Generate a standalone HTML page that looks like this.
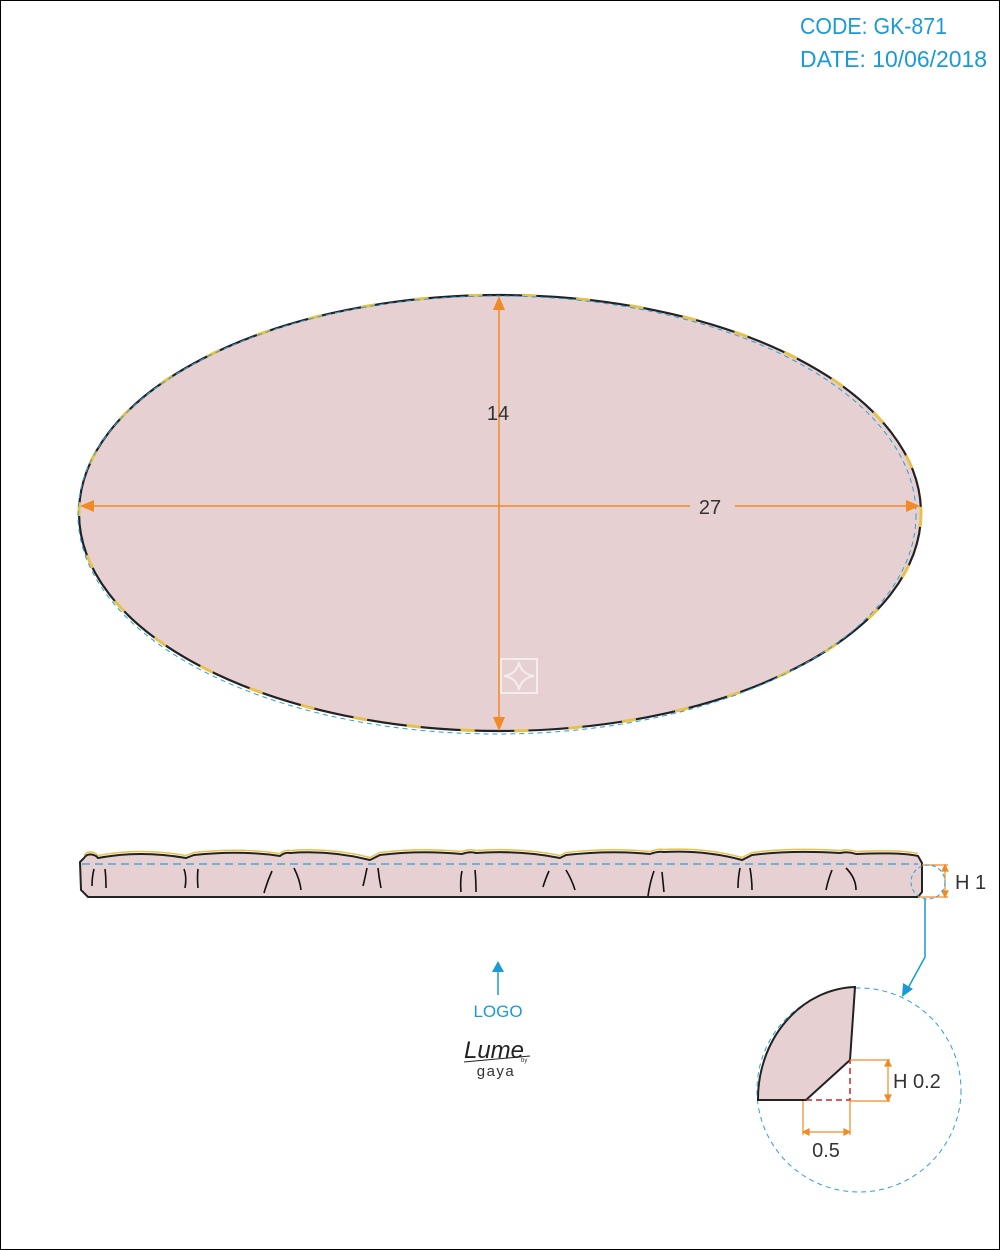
<!DOCTYPE html>
<html><head><meta charset="utf-8"><style>
html,body{margin:0;padding:0;background:#fff}
svg{display:block}
text{font-family:"Liberation Sans",sans-serif}
</style></head><body>
<svg width="1000" height="1250" viewBox="0 0 1000 1250">
<rect x="0.5" y="0.5" width="999" height="1249" fill="#fff" stroke="#000" stroke-width="1"/>
<text x="800" y="34" font-size="23" fill="#1a9ad6" textLength="147" lengthAdjust="spacingAndGlyphs">CODE: GK-871</text>
<text x="800" y="67" font-size="23" fill="#1a9ad6" textLength="187" lengthAdjust="spacingAndGlyphs">DATE: 10/06/2018</text>

<g>
<ellipse cx="500" cy="513" rx="421" ry="218" fill="#e7d0d1" stroke="#222" stroke-width="2.2"/>
<ellipse cx="500" cy="513" rx="421" ry="218" fill="none" stroke="#e8c14a" stroke-width="3" stroke-dasharray="14 40"/>
<ellipse cx="497" cy="515" rx="419" ry="219" fill="none" stroke="#2aa0d8" stroke-width="1" stroke-dasharray="5 4"/>
<line x1="499" y1="306" x2="499" y2="720" stroke="#f08a24" stroke-width="1.5"/>
<polygon points="499,296 493,310 505,310" fill="#f08a24"/>
<polygon points="499,731 493,717 505,717" fill="#f08a24"/>
<text x="498" y="420" font-size="20" fill="#333" text-anchor="middle">14</text>
<line x1="90" y1="506" x2="690" y2="506" stroke="#f08a24" stroke-width="1.5"/>
<line x1="735" y1="506" x2="910" y2="506" stroke="#f08a24" stroke-width="1.5"/>
<polygon points="80,506 94,500 94,512" fill="#f08a24"/>
<polygon points="920,506 906,500 906,512" fill="#f08a24"/>
<text x="710" y="514" font-size="20" fill="#333" text-anchor="middle">27</text>
<g stroke="#f5eded" stroke-width="2" fill="none">
<rect x="501" y="659" width="36" height="34"/>
<path d="M519,662 Q521,674 534,676 Q521,678 519,690 Q517,678 504,676 Q517,674 519,662 Z"/>
</g>
</g>

<g>
<path d="M84,858 Q88,852 96,856 L98,858 Q140,850 186,858 L194,855 Q240,850 280,856 Q285,852 290,853 Q330,850 370,860 L380,855 Q420,850 462,854 Q470,851 476,853 Q520,850 560,858 L566,855 Q610,850 650,854 Q658,851 664,852 Q705,850 742,860 L752,855 Q790,850 840,853 Q848,851 856,854 Q900,852 918,856 L922,863 L922,892 L918,897 L88,897 L81,890 L80,862 Z" fill="#e7d0d1" stroke="#222" stroke-width="2"/>
<path d="M84,857 Q88,851 96,855 L98,857 Q140,849 186,857 L194,854 Q240,849 280,855 Q285,851 290,852 Q330,849 370,859 L380,854 Q420,849 462,853 Q470,850 476,852 Q520,849 560,857 L566,854 Q610,849 650,853 Q658,850 664,851 Q705,849 742,859 L752,854 Q790,849 840,852 Q848,850 856,853 Q900,851 918,855" fill="none" stroke="#e8c14a" stroke-width="1.5" transform="translate(0,-1.5)"/>
<line x1="82" y1="864" x2="918" y2="864" stroke="#2aa0d8" stroke-width="1.2" stroke-dasharray="8 5"/>
<g stroke="#111" stroke-width="1.6" fill="none">
<path d="M94,869 Q92,877 92,886"/><path d="M105,869 Q106,877 106,888"/>
<path d="M184,869 Q187,877 185,888"/><path d="M198,869 Q197,878 198,888"/>
<path d="M272,871 Q267,882 264,893"/><path d="M294,868 Q300,880 301,890"/>
<path d="M367,868 Q365,878 363,886"/><path d="M378,868 Q379,878 381,888"/>
<path d="M462,871 Q460,880 461,892"/><path d="M475,870 Q476,880 476,892"/>
<path d="M549,871 Q545,880 543,887"/><path d="M566,870 Q572,880 575,890"/>
<path d="M654,871 Q650,882 648,896"/><path d="M662,872 Q663,882 664,892"/>
<path d="M740,868 Q738,878 738,888"/><path d="M750,868 Q752,880 752,890"/>
<path d="M832,870 Q828,880 826,890"/><path d="M846,868 Q856,878 856,890"/>
</g>
<g stroke="#f08a24" stroke-width="1.2">
<line x1="922" y1="865" x2="948" y2="865"/><line x1="918" y1="897" x2="948" y2="897"/>
<line x1="945" y1="868" x2="945" y2="894"/>
<polygon points="945,865 942,871 948,871" fill="#f08a24"/><polygon points="945,897 942,891 948,891" fill="#f08a24"/>
</g>
<text x="955" y="889" font-size="20" fill="#333">H 1</text>
<circle cx="928" cy="882" r="17" fill="none" stroke="#2aa0d8" stroke-width="1" stroke-dasharray="4 3"/>
<polyline points="925,899 925,957 907,990" fill="none" stroke="#1a9ad6" stroke-width="1.5"/>
<polygon points="902,997 903,983 913,989" fill="#1a9ad6"/>
</g>

<g>
<circle cx="859" cy="1090" r="102" fill="none" stroke="#2aa0d8" stroke-width="1" stroke-dasharray="5 4"/>
<path d="M758,1100 A100,112 0 0 1 855,987 L850,1060 L806,1100 Z" fill="#e7d0d1" stroke="#222" stroke-width="2"/>
<path d="M806,1100 L850,1100 L850,1060" fill="none" stroke="#d0202a" stroke-width="1.5" stroke-dasharray="6 4"/>
<g stroke="#f08a24" stroke-width="1.2">
<line x1="850" y1="1060" x2="890" y2="1060"/><line x1="850" y1="1101" x2="890" y2="1101"/>
<line x1="888" y1="1063" x2="888" y2="1098"/>
<polygon points="888,1060 885,1066 891,1066" fill="#f08a24"/><polygon points="888,1101 885,1095 891,1095" fill="#f08a24"/>
<line x1="803" y1="1101" x2="803" y2="1135"/><line x1="850" y1="1101" x2="850" y2="1135"/>
<line x1="806" y1="1132" x2="847" y2="1132"/>
<polygon points="803,1132 809,1129 809,1135" fill="#f08a24"/><polygon points="850,1132 844,1129 844,1135" fill="#f08a24"/>
</g>
<text x="893" y="1088" font-size="20" fill="#333">H 0.2</text>
<text x="826" y="1157" font-size="20" fill="#333" text-anchor="middle">0.5</text>
</g>

<g>
<line x1="498" y1="970" x2="498" y2="995" stroke="#1a9ad6" stroke-width="1.5"/>
<polygon points="498,961 492,972 504,972" fill="#1a9ad6"/>
<text x="498" y="1017" font-size="17" fill="#1a9ad6" text-anchor="middle">LOGO</text>
<text x="494" y="1058" font-size="24" font-style="italic" fill="#222" text-anchor="middle" font-family="Liberation Serif,serif">Lume</text>
<line x1="464" y1="1062" x2="530" y2="1056" stroke="#222" stroke-width="1"/>
<text x="521" y="1062" font-size="6" fill="#333">by</text>
<text x="496" y="1076" font-size="15" fill="#333" text-anchor="middle" letter-spacing="1.5">gaya</text>
</g>
</svg>
</body></html>
